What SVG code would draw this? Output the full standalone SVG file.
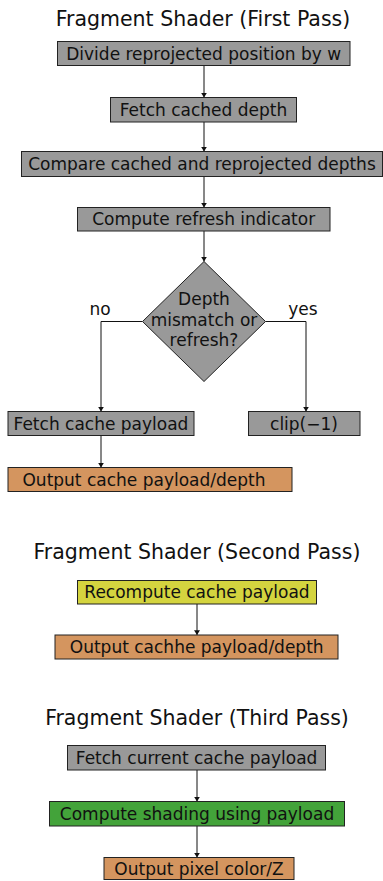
<svg xmlns="http://www.w3.org/2000/svg" width="383" height="881" viewBox="0 0 383 881">
<defs>
<marker id="ah" viewBox="0 0 8 10" refX="8" refY="5" markerWidth="5" markerHeight="6" markerUnits="userSpaceOnUse" orient="auto">
<path d="M0,0 L8,5 L0,10 z" fill="#111"/>
</marker>
<style>
.t{font-family:"DejaVu Sans","Liberation Sans",sans-serif;font-size:20.5px;fill:#111;text-anchor:middle}
.l{font-family:"DejaVu Sans","Liberation Sans",sans-serif;font-size:17px;fill:#111;text-anchor:middle}
.g{fill:#999999;stroke:#222;stroke-width:1}
.o{fill:#d4955f;stroke:#222;stroke-width:1}
.y{fill:#d4d43f;stroke:#222;stroke-width:1}
.gr{fill:#43a33a;stroke:#222;stroke-width:1}
.c{fill:none;stroke:#111;stroke-width:1;marker-end:url(#ah)}
</style>
</defs>
<g id="titles">
<text class="t" x="203" y="26">Fragment Shader (First Pass)</text>
<text class="t" x="197" y="559">Fragment Shader (Second Pass)</text>
<text class="t" x="197" y="725">Fragment Shader (Third Pass)</text>
</g>
<g id="connectors">
<path class="c" d="M204,65.5 V97.5"/>
<path class="c" d="M204,122 V151.5"/>
<path class="c" d="M204,176.5 V207.5"/>
<path class="c" d="M204,231 V261.5"/>
<path class="c" d="M142.5,321.5 H101 V411.5"/>
<path class="c" d="M265.5,321.5 H306 V411.5"/>
<path class="c" d="M101,435.5 V467.5"/>
<path class="c" d="M197,604 V635"/>
<path class="c" d="M197,770 V801.5"/>
<path class="c" d="M197,826 V857.5"/>
</g>
<g id="labels">
<text class="l" x="100" y="315">no</text>
<text class="l" x="303" y="315">yes</text>
</g>
<g id="n1"><rect class="g" x="57.5" y="41.5" width="292.5" height="24"/><text class="l" x="203.7" y="59.5">Divide reprojected position by w</text></g>
<g id="n2"><rect class="g" x="110.5" y="97.5" width="186" height="24.5"/><text class="l" x="203.5" y="115.8">Fetch cached depth</text></g>
<g id="n3"><rect class="g" x="21.5" y="151.5" width="361" height="25"/><text class="l" x="202" y="170">Compare cached and reprojected depths</text></g>
<g id="n4"><rect class="g" x="77.5" y="207.5" width="252.5" height="23.5"/><text class="l" x="203.7" y="225.2">Compute refresh indicator</text></g>
<g id="n5"><polygon class="g" points="204,261.5 265.5,321.5 204,381.5 142.5,321.5"/>
<text class="l" x="204" y="305">Depth</text><text class="l" x="204" y="326">mismatch or</text><text class="l" x="204" y="345.5">refresh?</text></g>
<g id="n6"><rect class="g" x="8" y="411.5" width="186" height="24"/><text class="l" x="101" y="429.8">Fetch cache payload</text></g>
<g id="n7"><rect class="g" x="248.5" y="411.5" width="111.5" height="24"/><text class="l" x="304" y="429.8">clip(−1)</text></g>
<g id="n8"><rect class="o" x="8" y="467.5" width="284" height="24"/><text class="l" x="144" y="485.8">Output cache payload/depth</text></g>
<g id="n9"><rect class="y" x="77.5" y="580.5" width="239" height="23.5"/><text class="l" x="197" y="598.2">Recompute cache payload</text></g>
<g id="n10"><rect class="o" x="55" y="635" width="283" height="24"/><text class="l" x="196.7" y="653.2">Output cachhe payload/depth</text></g>
<g id="n11"><rect class="g" x="67.5" y="745.5" width="258" height="24.5"/><text class="l" x="196.6" y="763.8">Fetch current cache payload</text></g>
<g id="n12"><rect class="gr" x="49.5" y="801.5" width="295" height="24.5"/><text class="l" x="197" y="819.8">Compute shading using payload</text></g>
<g id="n13"><rect class="o" x="104" y="857.5" width="190" height="22"/><text class="l" x="199" y="874.5">Output pixel color/Z</text></g>
</svg>
